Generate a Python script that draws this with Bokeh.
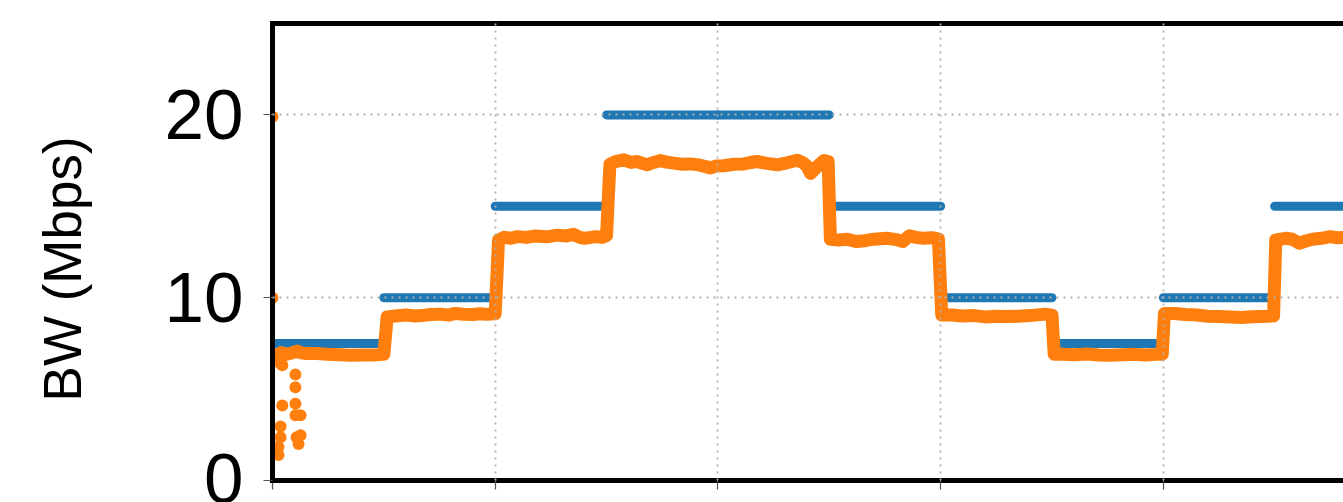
from bokeh.plotting import figure
from bokeh.models import Range1d, FixedTicker, LinearAxis, CustomJSTickFormatter
from bokeh.embed import file_html
from bokeh.resources import INLINE

# ---- data ----
# configured bottleneck bandwidth (step schedule)
step_start = [0, 50, 100, 150, 200, 250, 300, 350, 400, 450]
step_end = [50, 100, 150, 200, 250, 300, 350, 400, 450, 500]
step_bw = [7.5, 10, 15, 20, 20, 15, 10, 7.5, 10, 15]

# measured throughput (main trace)
rx_t = [2, 4, 6, 8, 11, 13, 15, 20, 25, 30, 35, 40, 45, 50,
        51.5, 55, 60, 64, 67, 71, 75, 79, 82, 86, 90, 93, 96, 100,
        101.5, 104, 107, 110, 114, 118, 123, 128, 132, 135, 138, 140, 143, 145, 148, 150,
        151.5, 154, 157.8, 161, 163.8, 166, 168.3, 171, 174.2, 177, 180.2, 184,
        187.7, 192, 196.7, 199, 202.7, 207, 211.6, 214, 217.6, 222, 226.6, 231,
        235.6, 238, 240, 241.6, 244, 247.6, 249.5,
        250.5, 254, 258, 262, 266, 270, 276, 280, 283, 286, 289, 292, 296, 299,
        300.5, 305, 310, 315, 320, 325, 330, 335, 340, 347, 350,
        351, 355, 360, 366, 371, 376, 382, 387, 392, 397, 399.5,
        400.5, 405, 410, 415, 420, 425, 430, 435, 440, 447, 449.5,
        450.5, 455, 458, 461, 464, 467, 471, 475, 478, 481]
rx_bw = [6.85, 7.0, 6.9, 6.95, 7.08, 6.98, 6.95, 6.95, 6.9, 6.88, 6.85, 6.86, 6.87, 6.9,
         8.95, 9.0, 9.05, 9.0, 9.02, 9.08, 9.1, 9.05, 9.14, 9.1, 9.08, 9.12, 9.1, 9.12,
         13.15, 13.3, 13.25, 13.34, 13.3, 13.38, 13.33, 13.42, 13.38, 13.47, 13.3, 13.25, 13.3, 13.34, 13.3, 13.4,
         17.3, 17.45, 17.54, 17.4, 17.45, 17.35, 17.27, 17.4, 17.5, 17.42, 17.36, 17.3,
         17.32, 17.25, 17.1, 17.2, 17.22, 17.3, 17.32, 17.38, 17.45, 17.35, 17.27, 17.38,
         17.52, 17.4, 17.2, 16.8, 17.1, 17.5, 17.45,
         13.2, 13.16, 13.2, 13.07, 13.12, 13.2, 13.25, 13.18, 13.07, 13.39, 13.3, 13.25, 13.28, 13.22,
         9.05, 9.05, 9.0, 9.02, 8.95, 8.98, 8.97, 8.99, 9.02, 9.1, 9.05,
         6.9, 6.9, 6.88, 6.92, 6.87, 6.85, 6.88, 6.9, 6.87, 6.9, 6.9,
         9.14, 9.14, 9.08, 9.05, 8.99, 8.97, 8.95, 8.92, 8.96, 8.99, 9.0,
         13.16, 13.25, 13.2, 12.98, 13.1, 13.2, 13.25, 13.34, 13.28, 13.3]

# scattered start-up samples
init_t = [0, 0, 4.4, 3.6, 10.3, 10.3, 4.4, 10.3, 12.6, 10.3, 3.6, 12.6, 11.7,
          3.6, 2.7, 2.7, 10.8, 1.5, 6.0]
init_bw = [19.9, 10.0, 6.3, 6.4, 5.8, 5.1, 4.1, 4.2, 3.57, 3.57, 2.95, 2.47, 2.0,
           2.36, 1.83, 1.4, 2.37, 6.7, 6.9]

y_ticks = [0, 10, 20]
x_ticks = [0, 100, 200, 300, 400]
y_title = "BW (Mbps)"

BLUE = "#1f77b4"
ORANGE = "#ff7f0e"
FONT = "Liberation Sans"
blank = CustomJSTickFormatter(code="return ''")

p = figure(width=1343, height=502,
           x_range=Range1d(0, 480.9), y_range=Range1d(0, 25),
           output_backend="svg", toolbar_location=None,
           min_border_left=272, min_border_right=0,
           min_border_top=23, min_border_bottom=22)
p.outline_line_color = None
p.background_fill_color = "white"
p.border_fill_color = "white"

p.segment(x0=step_start, y0=step_bw, x1=step_end, y1=step_bw,
          line_color=BLUE, line_width=9, line_cap="round")
p.line(rx_t, rx_bw, line_color=ORANGE, line_width=13,
       line_join="round", line_cap="round")
p.scatter(init_t, init_bw, size=12, fill_color=ORANGE, line_color=None)

# grid on top of data
for g, t in ((p.xgrid, x_ticks), (p.ygrid, y_ticks)):
    g.ticker = FixedTicker(ticks=t)
    g.grid_line_color = "#b0b0b0"
    g.grid_line_dash = "2 5"
    g.grid_line_width = 1.8
    g.level = "annotation"

# left axis
ya = p.yaxis[0]
ya.ticker = FixedTicker(ticks=y_ticks)
ya.axis_line_width = 5
ya.axis_line_color = "black"
ya.axis_line_cap = "square"
ya.major_tick_out = 9
ya.major_tick_in = 0
ya.minor_tick_out = 0
ya.minor_tick_in = 0
ya.major_tick_line_color = "#555555"
ya.major_tick_line_width = 1.2
ya.major_label_text_font = FONT
ya.major_label_text_font_size = "71px"
ya.major_label_text_color = "black"
ya.major_label_standoff = 20

# bottom axis (its labels fall outside the visible area)
xa = p.xaxis[0]
xa.ticker = FixedTicker(ticks=x_ticks)
xa.formatter = blank
xa.axis_line_width = 5
xa.axis_line_color = "black"
xa.axis_line_cap = "square"
xa.major_tick_out = 9
xa.major_tick_in = 0
xa.minor_tick_out = 0
xa.minor_tick_in = 0
xa.major_tick_line_color = "#555555"
xa.major_tick_line_width = 1.2
xa.major_label_standoff = 0

# top border
top = LinearAxis(ticker=FixedTicker(ticks=[]), formatter=blank,
                 axis_line_width=5, axis_line_color="black", axis_line_cap="square",
                 major_tick_out=0, major_tick_in=0,
                 minor_tick_out=0, minor_tick_in=0, major_label_standoff=0)
p.add_layout(top, "above")

# axis title carried by a second, invisible left axis; trailing no-break
# spaces move the visible words a little below the frame centre
lab_axis = LinearAxis(ticker=FixedTicker(ticks=[]), formatter=blank,
                      axis_line_color=None,
                      major_tick_out=0, major_tick_in=0,
                      minor_tick_out=0, minor_tick_in=0, major_label_standoff=0,
                      axis_label=y_title + "\u00a0\u00a0\u200a",
                      axis_label_text_font=FONT,
                      axis_label_text_font_size="53px",
                      axis_label_text_font_style="normal",
                      axis_label_text_color="black",
                      axis_label_standoff=70)
p.add_layout(lab_axis, "left")

open("out.html", "w").write(file_html(p, INLINE))
